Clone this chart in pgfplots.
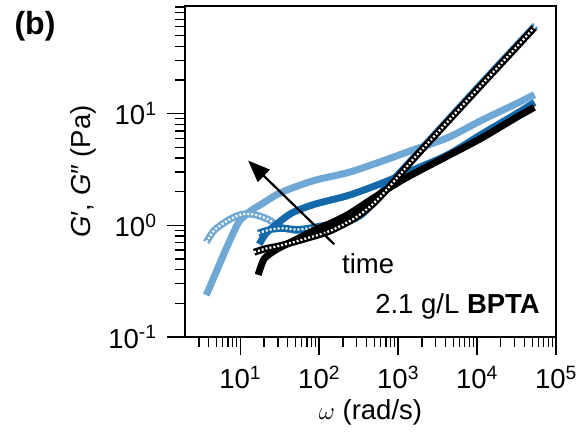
\documentclass[border=0pt]{standalone}
\usepackage{fontspec}
\setmainfont{Liberation Sans}
\usepackage{pgfplots}
\usepackage{pgfplotstable}
\pgfplotsset{compat=1.18}
\usetikzlibrary{arrows.meta}
\definecolor{lb}{RGB}{111,168,212}
\definecolor{mb}{RGB}{20,105,170}

\pgfplotstableread{
x y
3.72 0.237
5.27 0.422
7.04 0.677
9.43 1.05
11.2 1.20
13.8 1.36
18.4 1.54
33.0 1.97
86.5 2.52
233 2.97
610 3.73
1600 4.77
4300 6.11
11200 8.66
29400 12.0
53500 14.8
}\lbGp
\pgfplotstableread{
x y
3.72 0.705
4.69 0.902
7.04 1.11
10.3 1.25
15.0 1.25
22.6 1.13
33.0 0.96
59.2 0.90
174 1.02
339 1.23
610 1.93
1600 4.1
4300 8.85
11200 18.5
29400 38.6
55000 62.0
}\lbGpp
\pgfplotstableread{
x y
17.4 0.677
21.3 0.85
26.9 0.98
44.3 1.28
86.5 1.54
233 1.85
610 2.37
1600 3.16
4300 4.30
11200 6.49
29400 9.7
53500 12.6
}\mbGp
\pgfplotstableread{
x y
16.9 0.85
24.7 0.92
36.0 0.94
59 0.92
174 1.06
339 1.25
610 1.96
1600 4.05
4300 8.7
11200 18.2
29400 38.0
54000 60.0
}\mbGpp
\pgfplotstableread{
x y
16.9 0.36
20.1 0.50
26.9 0.59
33 0.64
54 0.76
86.5 0.90
142 1.05
233 1.25
455 1.70
1190 2.60
4300 4.2
11200 6.0
29400 9.0
53000 11.4
}\kGp
\pgfplotstableread{
x y
15.0 0.574
21.3 0.62
33.0 0.66
86.5 0.80
142 0.90
277 1.15
455 1.50
746 2.15
1600 4.0
4300 8.57
11200 17.9
29400 37.4
52700 58.6
}\kGpp

\begin{document}
\begin{tikzpicture}
\begin{axis}[
  at={(0,0)}, anchor=south west,
  xmode=log, ymode=log,
  scale only axis, width=371pt, height=331pt,
  xmin=2, xmax=1e5, ymin=0.1, ymax=92,
  axis line style={line width=1.3pt},
  tick align=outside, xtick pos=bottom, ytick pos=left,
  major tick length=18pt, minor tick length=10pt,
  every tick/.style={line width=1.3pt, black},
  xtick={10,100,1000,10000,100000},
  xticklabels={10\textsuperscript{1},10\textsuperscript{2},10\textsuperscript{3},10\textsuperscript{4},10\textsuperscript{5}},
  minor xtick={3,4,5,6,7,8,9,20,30,40,50,60,70,80,90,200,300,400,500,600,700,800,900,2000,3000,4000,5000,6000,7000,8000,9000,20000,30000,40000,50000,60000,70000,80000,90000},
  ytick={0.1,1,10},
  yticklabels={10\textsuperscript{-1},10\textsuperscript{0},10\textsuperscript{1}},
  minor ytick={0.2,0.3,0.4,0.5,0.6,0.7,0.8,0.9,2,3,4,5,6,7,8,9,20,30,40,50,60,70,80,90},
  tick label style={font=\fontsize{27.5}{32}\selectfont},
  xticklabel style={yshift=-8pt},
  yticklabel style={xshift=-7pt},
  label style={font=\fontsize{27.5}{32}\selectfont},
  xlabel={$\omega$ (rad/s)},
  ylabel={\textit{G}′, \textit{G}″ (Pa)},
  xlabel style={at={(axis description cs:0.5,-0.227)}, anchor=center},
  ylabel style={at={(axis description cs:-0.275,0.5)}, anchor=center},
]
% light blue
\addplot[lb, line width=7pt, smooth, no markers] table {\lbGp};
\addplot[lb, line width=7pt, smooth, no markers] table {\lbGpp};
\addplot[white, line width=2.2pt, smooth, no markers, dash pattern=on 2pt off 2pt] table {\lbGpp};
% medium blue
\addplot[mb, line width=7pt, smooth, no markers] table {\mbGp};
\addplot[mb, line width=7pt, smooth, no markers] table {\mbGpp};
\addplot[white, line width=2.2pt, smooth, no markers, dash pattern=on 2pt off 2pt] table {\mbGpp};
% black
\addplot[black, line width=7pt, smooth, no markers] table {\kGp};
\addplot[black, line width=7pt, smooth, no markers] table {\kGpp};
\addplot[white, line width=2.2pt, smooth, no markers, dash pattern=on 2pt off 2pt] table {\kGpp};
% arrow and labels
\draw[-{Triangle[length=22pt,width=17pt]}, line width=2.2pt] (axis cs:155,0.677) -- (axis cs:12.6,3.8);
\node[font=\fontsize{27.5}{32}\selectfont, anchor=center] at (axis cs:417,0.455) {time};
\node[font=\fontsize{27.5}{32}\selectfont, anchor=east, inner sep=0pt] at (rel axis cs:0.957,0.094) {2.1 g/L \textbf{BPTA}};
\end{axis}
\node[font=\fontsize{32}{36}\selectfont\bfseries, anchor=center] at (-150pt,311pt) {(b)};
\pgfresetboundingbox
\useasboundingbox (-185pt,-103pt) rectangle (394pt,337pt);
\end{tikzpicture}
\end{document}
